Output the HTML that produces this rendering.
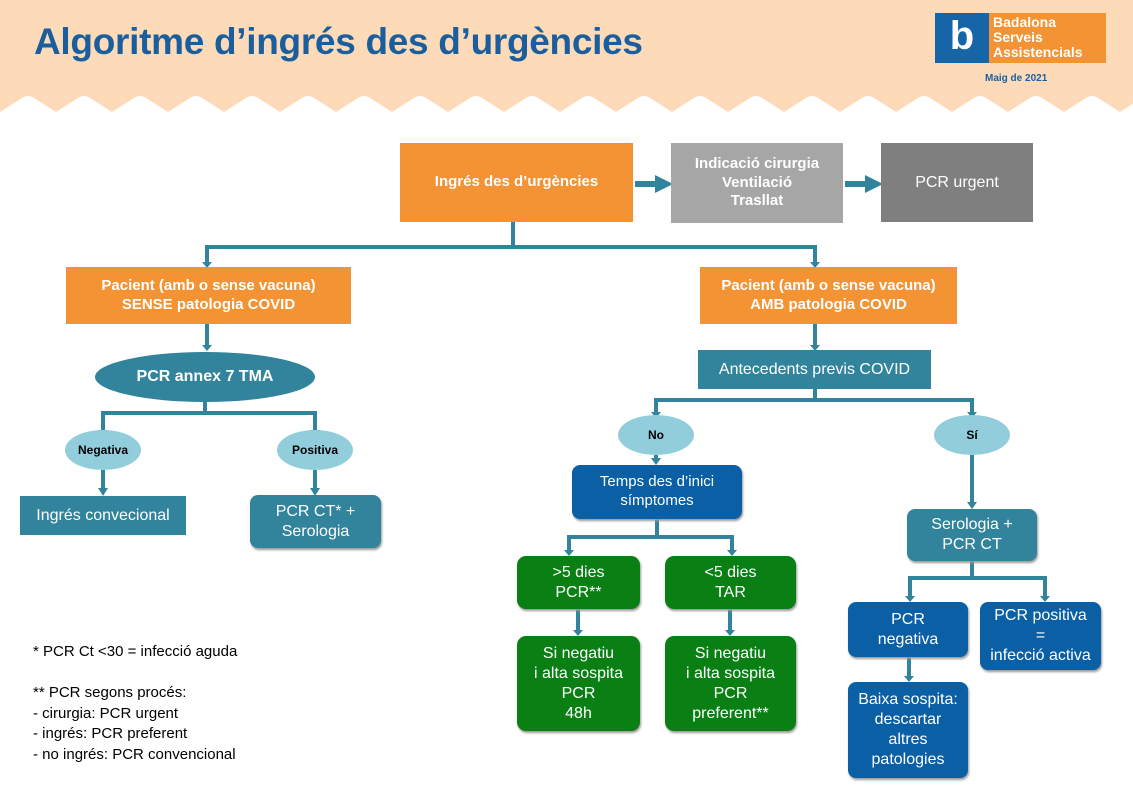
<!DOCTYPE html>
<html><head><meta charset="utf-8"><style>
body{margin:0;width:1133px;height:796px;position:relative;background:#fff;font-family:"Liberation Sans",Arial,sans-serif;overflow:hidden}
.b{position:absolute;display:flex;align-items:center;justify-content:center;text-align:center;color:#fff;box-sizing:border-box;line-height:1.25}
.o{background:#F39333;font-weight:bold;font-size:15px}
.t{background:#31849B;font-size:16px}
.bl{background:#0A5FA5;font-size:16px;border-radius:8px;box-shadow:1px 2px 2px #999}
.g{background:#0A7F14;font-size:16px;border-radius:9px;box-shadow:1px 2px 2px #999}
.e{position:absolute;border-radius:50%;background:#92CDDC;display:flex;align-items:center;justify-content:center;font-weight:bold;font-size:12px;color:#000}
</style></head><body>
<div style="position:absolute;left:0;top:0;width:1133px;height:112px;background:#FDDBB8"></div>
<svg style="position:absolute;left:0;top:94px" width="1133" height="20">
<path d="M0 18 L22 4 Q28 0 34 4 L56 18 L78 4 Q84 0 90 4 L112 18 L134 4 Q140 0 146 4 L168 18 L190 4 Q196 0 202 4 L224 18 L246 4 Q252 0 258 4 L280 18 L302 4 Q308 0 314 4 L336 18 L358 4 Q364 0 370 4 L392 18 L414 4 Q420 0 426 4 L448 18 L470 4 Q476 0 482 4 L504 18 L526 4 Q532 0 538 4 L560 18 L582 4 Q588 0 594 4 L616 18 L638 4 Q644 0 650 4 L672 18 L694 4 Q700 0 706 4 L728 18 L750 4 Q756 0 762 4 L784 18 L806 4 Q812 0 818 4 L840 18 L862 4 Q868 0 874 4 L896 18 L918 4 Q924 0 930 4 L952 18 L974 4 Q980 0 986 4 L1008 18 L1030 4 Q1036 0 1042 4 L1064 18 L1086 4 Q1092 0 1098 4 L1120 18 L1142 4 L1142 20 L0 20Z" fill="#fff"/></svg>
<div style="position:absolute;left:34px;top:21px;font-size:37px;font-weight:bold;color:#1B5E9E;letter-spacing:-0.3px">Algoritme d’ingrés des d’urgències</div>
<div style="position:absolute;left:935px;top:13px;width:54px;height:50px;background:#1565A8;color:#fff;font-weight:bold;font-size:40px;text-align:center;line-height:46px">b</div>
<div style="position:absolute;left:989px;top:13px;width:117px;height:50px;background:#F39333;color:#fff;font-weight:bold;font-size:14px;line-height:15px;padding:2px 4px;box-sizing:border-box">Badalona<br>Serveis<br>Assistencials</div>
<div style="position:absolute;left:985px;top:73px;font-size:10px;font-weight:bold;color:#1B5E9E">Maig de 2021</div>

<svg style="position:absolute;left:0;top:0" width="1133" height="796">
<defs>
<marker id="a2" markerWidth="3" markerHeight="3" refX="1.5" refY="1.5" orient="auto"><path d="M0 0L3 1.5L0 3Z" fill="#31849B"/></marker></defs>
<g stroke="#31849B" stroke-width="4" fill="none">
<line x1="635" y1="184" x2="664" y2="184" stroke-width="6" marker-end="url(#a2)"/>
<line x1="845" y1="184" x2="874" y2="184" stroke-width="6" marker-end="url(#a2)"/>
<path d="M513 222V247M207 247H815M207 245V262M815 245V262"/>
<path d="M207 324V345M815 324V345M205 402V413M101 413H315M103 411V430M315 411V430"/>
<path d="M103 470V490M315 470V490M815 389V400M656 400H972M656 398V415M972 398V415M656 455V460M972 455V503"/>
<path d="M657 519V537M569 537H732M569 535V551M732 535V551M578 609V631M730 609V631"/>
<path d="M972 561V578M910 578H1045M910 576V597M1045 576V597M909 657V677"/>
</g>
<g fill="#31849B">
<path d="M202 262h10l-5 6z M810 262h10l-5 6z M202 345h10l-5 6z M810 345h10l-5 6z M98 430h10l-5 6z M310 430h10l-5 6z M98 488h10l-5 8z M310 488h10l-5 8z M651 412h10l-5 6z M967 412h10l-5 6z M651 458h10l-5 7z M967 502h10l-5 7z M564 550h10l-5 6z M727 550h10l-5 6z M573 630h10l-5 6z M725 630h10l-5 6z M905 596h10l-5 6z M1040 596h10l-5 6z M904 676h10l-5 6z"/>
</g></svg>

<div class="b o" style="left:400px;top:143px;width:233px;height:79px">Ingrés des d’urgències</div>
<div class="b o" style="left:671px;top:143px;width:172px;height:80px;background:#A6A6A6;font-size:15px">Indicació cirurgia<br>Ventilació<br>Trasllat</div>
<div class="b" style="left:881px;top:143px;width:152px;height:79px;background:#7F7F7F;font-size:16px">PCR urgent</div>
<div class="b o" style="left:66px;top:267px;width:285px;height:57px">Pacient (amb o sense vacuna)<br>SENSE patologia COVID</div>
<div class="b o" style="left:700px;top:267px;width:257px;height:57px">Pacient (amb o sense vacuna)<br>AMB patologia COVID</div>
<div class="b" style="left:95px;top:352px;width:220px;height:50px;border-radius:50%;background:#31849B;font-weight:bold;font-size:16px">PCR annex 7 TMA</div>
<div class="e" style="left:65px;top:430px;width:76px;height:40px">Negativa</div>
<div class="e" style="left:277px;top:430px;width:76px;height:40px">Positiva</div>
<div class="b t" style="left:20px;top:496px;width:166px;height:39px">Ingrés convecional</div>
<div class="b t" style="left:250px;top:495px;width:131px;height:53px;border-radius:8px;box-shadow:1px 2px 2px #999">PCR CT* +<br>Serologia</div>
<div class="b t" style="left:698px;top:350px;width:233px;height:39px">Antecedents previs COVID</div>
<div class="e" style="left:618px;top:415px;width:76px;height:40px">No</div>
<div class="e" style="left:934px;top:415px;width:76px;height:40px">Sí</div>
<div class="b bl" style="left:572px;top:465px;width:170px;height:54px;font-size:15px">Temps des d’inici<br>símptomes</div>
<div class="b t" style="left:907px;top:509px;width:130px;height:52px;border-radius:8px;box-shadow:1px 2px 2px #999">Serologia +<br>PCR CT</div>
<div class="b g" style="left:517px;top:556px;width:123px;height:53px">&gt;5 dies<br>PCR**</div>
<div class="b g" style="left:665px;top:556px;width:131px;height:53px">&lt;5 dies<br>TAR</div>
<div class="b g" style="left:517px;top:636px;width:123px;height:95px">Si negatiu<br>i alta sospita<br>PCR<br>48h</div>
<div class="b g" style="left:665px;top:636px;width:131px;height:95px">Si negatiu<br>i alta sospita<br>PCR<br>preferent**</div>
<div class="b bl" style="left:848px;top:602px;width:120px;height:55px">PCR<br>negativa</div>
<div class="b bl" style="left:980px;top:602px;width:121px;height:68px">PCR positiva<br>=<br>infecció activa</div>
<div class="b bl" style="left:848px;top:682px;width:120px;height:96px">Baixa sospita:<br>descartar<br>altres<br>patologies</div>
<div style="position:absolute;left:33px;top:642px;font-size:15px;line-height:20.5px;color:#000">* PCR Ct &lt;30 = infecció aguda<br><br>** PCR segons procés:<br>- cirurgia: PCR urgent<br>- ingrés: PCR preferent<br>- no ingrés: PCR convencional</div>
</body></html>
